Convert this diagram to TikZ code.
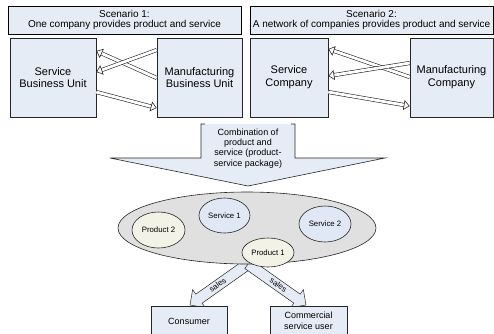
\documentclass[tikz,border=0pt]{standalone}
\usepackage{fontspec}
\setmainfont{Liberation Sans}
\usetikzlibrary{arrows.meta,shapes.geometric}
\definecolor{boxblue}{RGB}{230,236,246}
\definecolor{circblue}{RGB}{224,232,246}
\definecolor{prodfill}{RGB}{242,242,230}
\definecolor{pkggray}{RGB}{224,224,224}
\begin{document}
\begin{tikzpicture}[x=1pt,y=-1pt,
  scen/.style={draw=black, line width=0.7pt, fill=boxblue, minimum height=28pt, inner sep=0pt, align=center, font=\fontsize{10}{10.5}\selectfont},
  unit/.style={draw=black!85, line width=0.6pt, fill=boxblue, minimum height=79pt, inner sep=0pt, align=center, font=\fontsize{11}{12.7}\selectfont},
  flow/.style={draw=black!85, line width=0.6pt, double=white, double distance=2.8pt, -{Triangle[open,length=6pt,width=10pt]}},
  blockarrow/.style={fill=boxblue},
  blockline/.style={draw=black!85, line width=0.6pt},
  pkgnode/.style={ellipse, draw=black!85, line width=0.6pt, fill=pkggray, inner sep=0pt},
  item/.style={ellipse, draw=black!85, line width=0.6pt, inner sep=0pt, font=\fontsize{7.8}{9}\selectfont},
  salesshape/.style={draw=black!85, line width=0.5pt, fill=boxblue, line join=miter},
  saleslabel/.style={inner sep=0pt, font=\fontsize{8}{9}\selectfont},
  customer/.style={draw=black!85, line width=0.6pt, fill=boxblue, minimum height=30pt, inner sep=0pt, align=center, font=\fontsize{9}{10.7}\selectfont}
]
\useasboundingbox (0,0) rectangle (494,333);
\clip (0,0) rectangle (494,333);

% scenario headers
\node[scen, minimum width=233pt] (sc1) at (124.5,20) {Scenario 1:\\One company provides product and service};
\node[scen, minimum width=243pt] (sc2) at (371.5,20) {Scenario 2:\\A network of companies provides product and service};

% units
\node[unit, minimum width=86pt] (sbu) at (53,77.5) {Service\\Business Unit};
\node[unit, minimum width=85pt] (mbu) at (199.5,77.5) {Manufacturing\\Business Unit};
\node[unit, minimum width=78pt] (sco) at (289,77.5) {Service\\Company};
\node[unit, minimum width=83pt] (mco) at (451.5,77.5) {Manufacturing\\Company};

% flows scenario 1
\draw[flow] ([yshift=-0.5pt]mbu.west) -- ([yshift=26.5pt]sbu.east);
\draw[flow] ([yshift=27.5pt]mbu.west) -- ([yshift=5.5pt]sbu.east);
\draw[flow] ([yshift=-14.5pt]sbu.east) -- ([yshift=-30.5pt]mbu.west);
% flows scenario 2
\draw[flow] ([yshift=0.5pt]mco.west) -- ([yshift=28.5pt]sco.east);
\draw[flow] ([yshift=14.5pt]mco.west) -- ([yshift=1.5pt]sco.east);
\draw[flow] ([yshift=-14.5pt]sco.east) -- ([yshift=-28.5pt]mco.west);

% combination block arrow
\fill[blockarrow] (201,124) -- (201,158) -- (110,158) -- (248,186) -- (385,158) -- (295,158) -- (295,124) -- cycle;
\draw[blockline] (205,124) -- (201,124) -- (201,158) -- (110,158) -- (248,186) -- (385,158) -- (295,158) -- (295,124) -- (291,124);
\node[align=center, inner sep=0pt, font=\fontsize{9}{10.3}\selectfont] (combo) at (248,148.5) {Combination of\\product and\\service (product-\\service package)};

% sales arrows
\filldraw[salesshape] (244.83,259.51) -- (195.82,294.16) -- (192.64,289.66) -- (190,305) -- (205.34,307.64) -- (202.16,303.14) -- (251.17,268.49) -- cycle;
\filldraw[salesshape] (251.17,259.51) -- (300.18,294.16) -- (303.36,289.66) -- (306,305) -- (290.66,307.64) -- (293.84,303.14) -- (244.83,268.49) -- cycle;
\node[saleslabel, rotate=35.3] (sales1) at (217.5,285) {sales};
\node[saleslabel, rotate=-35.3] (sales2) at (278.5,285) {sales};

% package
\node[pkgnode, minimum width=258pt, minimum height=72pt] (pkg) at (247,228) {};
\node[item, fill=prodfill, minimum width=53pt, minimum height=36pt] (p2) at (158.5,230) {Product 2};
\node[item, fill=circblue, minimum width=51pt, minimum height=35pt] (s1) at (224.5,215.5) {Service 1};
\node[item, fill=circblue, minimum width=52pt, minimum height=36pt] (s2) at (325,224) {Service 2};
\node[item, fill=prodfill, minimum width=52pt, minimum height=29pt] (p1) at (268,252.5) {Product 1};

% customers
\node[customer, minimum width=76pt] (cons) at (189,321) {Consumer};
\node[customer, minimum width=77pt] (comm) at (308.5,321) {Commercial\\service user};
\end{tikzpicture}
\end{document}
